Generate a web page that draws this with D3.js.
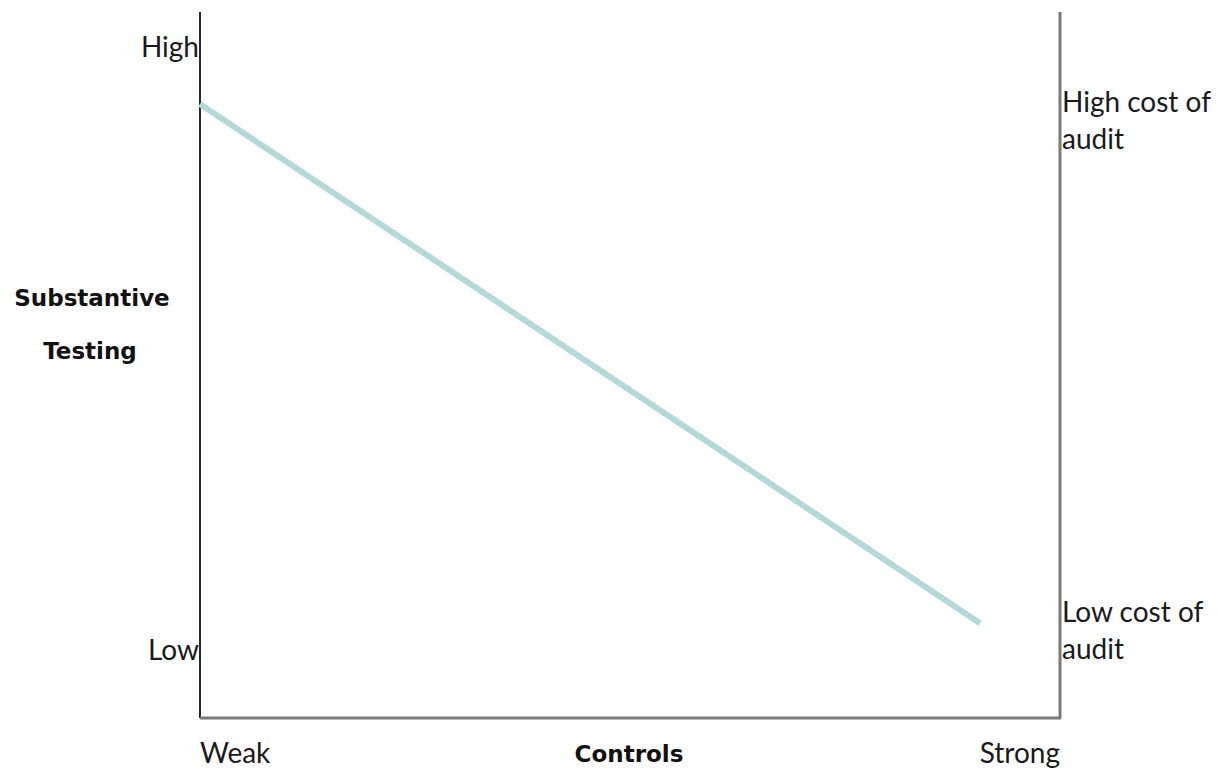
<!DOCTYPE html>
<html>
<head>
<meta charset="utf-8">
<script src="https://cdn.jsdelivr.net/npm/d3@7"></script>
<style>
  body { margin: 0; background: #fff; }
  text { font-family: "Lato", "Open Sans", sans-serif; fill: #1a1a1a; }
  .bold { font-family: "DejaVu Sans", sans-serif; font-weight: bold; fill: #111; }
</style>
</head>
<body>
<div id="chart"></div>
<script>
// Chart Data
const controlLevels = [0, 0.907];          // Weak -> Strong (x)
const testingLevels = [0.907, 0.046];      // Low -> High (y)
const xTickLabels = ["Weak", "Strong"];
const yTickLabels = ["Low", "High"];
const costLabels = [["Low cost of", "audit"], ["High cost of", "audit"]];

// Dimensions
let w = 1218, h = 771;
let padLeft = 200, padRight = 1060, padTop = 12, padBottom = 718;
let fontSize = 28, boldSize = 23;

let svg = d3.select("#chart").append("svg").attr("width", w).attr("height", h);

// Scales
let xScale = d3.scaleLinear().domain([0, 1]).range([padLeft, padRight]);
let yScale = d3.scaleLinear().domain([0, 1]).range([651, 48]);

// Axes Lines
svg.append("line").attr("x1", padLeft).attr("x2", padLeft).attr("y1", padTop).attr("y2", padBottom)
  .attr("stroke", "#2b2b2b").attr("stroke-width", 2);
svg.append("line").attr("x1", padLeft).attr("x2", padRight + 1).attr("y1", padBottom).attr("y2", padBottom)
  .attr("stroke", "#7a7a7a").attr("stroke-width", 3);
svg.append("line").attr("x1", padRight).attr("x2", padRight).attr("y1", padTop).attr("y2", padBottom)
  .attr("stroke", "#7a7a7a").attr("stroke-width", 3);

// Trend Line
let lineData = controlLevels.map((c, i) => ({ x: c, y: testingLevels[i] }));
let line = d3.line().x((d) => xScale(d.x)).y((d) => yScale(d.y));
svg.append("path").datum(lineData).attr("d", line)
  .attr("fill", "none").attr("stroke", "#b3d9da").attr("stroke-width", 6);

// Y Tick Labels (Left)
yTickLabels.forEach((t, i) => {
  svg.append("text").text(t).attr("x", padLeft - 1).attr("y", yScale(i) + 9)
    .attr("text-anchor", "end").attr("font-size", fontSize);
});

// X Tick Labels
svg.append("text").text(xTickLabels[0]).attr("x", xScale(0)).attr("y", 763)
  .attr("font-size", fontSize);
svg.append("text").text(xTickLabels[1]).attr("x", xScale(1)).attr("y", 763)
  .attr("text-anchor", "end").attr("font-size", fontSize);

// Right Labels
costLabels.forEach((lines, i) => {
  let y0 = i == 0 ? 622 : 112;
  lines.forEach((l, j) => {
    svg.append("text").text(l).attr("x", padRight + 2).attr("y", y0 + j * 37).attr("font-size", fontSize);
  });
});

// Axis Titles
svg.append("text").text("Controls").classed("bold", true).attr("x", 629).attr("y", 762)
  .attr("text-anchor", "middle").attr("font-size", boldSize);
svg.append("text").text("Substantive").classed("bold", true).attr("x", 92).attr("y", 306)
  .attr("text-anchor", "middle").attr("font-size", boldSize);
svg.append("text").text("Testing").classed("bold", true).attr("x", 90).attr("y", 359)
  .attr("text-anchor", "middle").attr("font-size", boldSize);
</script>
</body>
</html>
